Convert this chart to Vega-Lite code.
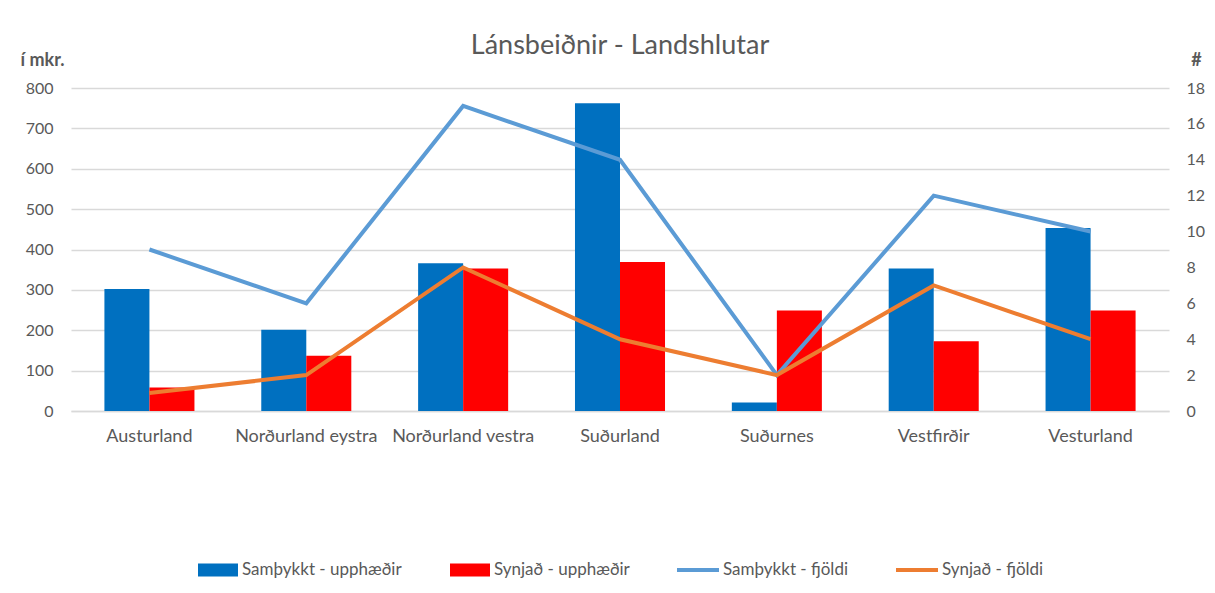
{
  "$schema": "https://vega.github.io/schema/vega-lite/v6.json",
  "width": 1098,
  "height": 323,
  "autosize": "none",
  "padding": {"left": 71, "top": 88, "right": 46, "bottom": 182},
  "background": "white",
  "config": {
    "font": "Lato",
    "view": {"stroke": null},
    "axis": {"labelColor": "#595959", "labelFontSize": 16, "titleColor": "#595959", "ticks": false, "domain": false, "gridColor": "#d9d9d9", "gridWidth": 1.3},
    "legend": {"padding": 0, "labelFontSize": 17, "labelColor": "#595959", "labelFont": "Lato"}
  },
  "title": {"text": "Lánsbeiðnir - Landshlutar", "fontSize": 27, "fontWeight": "normal", "color": "#595959", "anchor": "middle", "offset": 30, "dy": 39, "font": "Lato"},
  "datasets": {
    "bars": [
      {"region": "Austurland", "series": "Samþykkt - upphæðir", "value": 302},
      {"region": "Austurland", "series": "Synjað - upphæðir", "value": 58},
      {"region": "Norðurland eystra", "series": "Samþykkt - upphæðir", "value": 201},
      {"region": "Norðurland eystra", "series": "Synjað - upphæðir", "value": 137},
      {"region": "Norðurland vestra", "series": "Samþykkt - upphæðir", "value": 366},
      {"region": "Norðurland vestra", "series": "Synjað - upphæðir", "value": 353},
      {"region": "Suðurland", "series": "Samþykkt - upphæðir", "value": 762},
      {"region": "Suðurland", "series": "Synjað - upphæðir", "value": 369},
      {"region": "Suðurnes", "series": "Samþykkt - upphæðir", "value": 21},
      {"region": "Suðurnes", "series": "Synjað - upphæðir", "value": 249},
      {"region": "Vestfirðir", "series": "Samþykkt - upphæðir", "value": 353},
      {"region": "Vestfirðir", "series": "Synjað - upphæðir", "value": 173},
      {"region": "Vesturland", "series": "Samþykkt - upphæðir", "value": 453},
      {"region": "Vesturland", "series": "Synjað - upphæðir", "value": 249}
    ],
    "lines": [
      {"region": "Austurland", "series": "Samþykkt - fjöldi", "count": 9},
      {"region": "Norðurland eystra", "series": "Samþykkt - fjöldi", "count": 6},
      {"region": "Norðurland vestra", "series": "Samþykkt - fjöldi", "count": 17},
      {"region": "Suðurland", "series": "Samþykkt - fjöldi", "count": 14},
      {"region": "Suðurnes", "series": "Samþykkt - fjöldi", "count": 2},
      {"region": "Vestfirðir", "series": "Samþykkt - fjöldi", "count": 12},
      {"region": "Vesturland", "series": "Samþykkt - fjöldi", "count": 10},
      {"region": "Austurland", "series": "Synjað - fjöldi", "count": 1},
      {"region": "Norðurland eystra", "series": "Synjað - fjöldi", "count": 2},
      {"region": "Norðurland vestra", "series": "Synjað - fjöldi", "count": 8},
      {"region": "Suðurland", "series": "Synjað - fjöldi", "count": 4},
      {"region": "Suðurnes", "series": "Synjað - fjöldi", "count": 2},
      {"region": "Vestfirðir", "series": "Synjað - fjöldi", "count": 7},
      {"region": "Vesturland", "series": "Synjað - fjöldi", "count": 4}
    ]
  },
  "encoding": {
    "x": {
      "field": "region", "type": "nominal", "sort": null,
      "scale": {"paddingInner": 0.426, "paddingOuter": 0.213},
      "axis": {"title": null, "labelAngle": 0, "labelPadding": 16, "labelFontSize": 18, "domain": true, "domainColor": "#d9d9d9", "domainWidth": 1.3}
    }
  },
  "layer": [
    {
      "data": {"name": "bars"},
      "mark": {"type": "bar"},
      "encoding": {
        "xOffset": {"field": "series", "type": "nominal", "sort": null, "scale": {"paddingInner": 0, "paddingOuter": 0}},
        "y": {
          "field": "value", "type": "quantitative",
          "scale": {"domain": [0, 800], "nice": false},
          "axis": {"values": [0, 100, 200, 300, 400, 500, 600, 700, 800], "grid": true, "labelPadding": 18,
                   "title": "í mkr.", "titleAngle": 0, "titleX": -51, "titleY": -28, "titleAlign": "left", "titleBaseline": "middle", "titleFontWeight": "bold", "titleFontSize": 18}
        },
        "fill": {
          "field": "series", "type": "nominal", "sort": null,
          "scale": {"domain": ["Samþykkt - upphæðir", "Synjað - upphæðir"], "range": ["#0070C0", "#FF0000"]},
          "legend": {"title": null, "orient": "none", "direction": "horizontal", "legendX": 127, "legendY": 462,
                     "symbolType": "M-1,-0.32H1V0.32H-1Z", "symbolSize": 1600, "symbolStrokeWidth": 0, "symbolOpacity": 1, "labelOffset": 4, "columnPadding": 48}
        }
      }
    },
    {
      "data": {"name": "lines"},
      "mark": {"type": "line", "strokeWidth": 4, "strokeJoin": "miter"},
      "encoding": {
        "y": {
          "field": "count", "type": "quantitative",
          "scale": {"domain": [0, 18], "nice": false},
          "axis": {"orient": "right", "values": [0, 2, 4, 6, 8, 10, 12, 14, 16, 18], "grid": false, "labelPadding": 17,
                   "title": "#", "titleAngle": 0, "titleX": 27, "titleY": -28, "titleAlign": "center", "titleBaseline": "middle", "titleFontWeight": "bold", "titleFontSize": 18}
        },
        "stroke": {
          "field": "series", "type": "nominal", "sort": null,
          "scale": {"domain": ["Samþykkt - fjöldi", "Synjað - fjöldi"], "range": ["#5B9BD5", "#ED7D31"]},
          "legend": {"title": null, "orient": "none", "direction": "horizontal", "legendX": 604, "legendY": 459,
                     "symbolType": "stroke", "symbolSize": 1764, "symbolStrokeWidth": 4, "labelOffset": 2, "columnPadding": 40}
        }
      }
    }
  ],
  "resolve": {"scale": {"y": "independent"}}
}
